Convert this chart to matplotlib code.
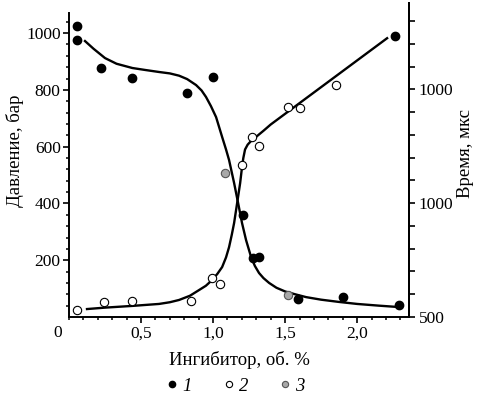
import matplotlib
matplotlib.use("Agg")
import matplotlib.pyplot as plt
from matplotlib.lines import Line2D
from matplotlib.ticker import MultipleLocator, FixedLocator

plt.rcParams['font.family'] = ['Liberation Serif', 'DejaVu Serif']

# ── data ─────────────────────────────────────────────────────────
# series 1 (filled): pressure, bar
s1_x = [0.055, 0.055, 0.22, 0.44, 0.82, 1.00, 1.21, 1.28, 1.32, 1.59, 1.90, 2.29, 2.26]
s1_y = [1025, 975, 877, 842, 789, 845, 359, 208, 211, 63, 70, 42, 989]
# series 2 (open)
s2_x = [0.055, 0.243, 0.44, 0.845, 0.995, 1.045, 1.20, 1.27, 1.32, 1.52, 1.60, 1.85]
s2_y = [25, 53, 56, 56, 137, 116, 535, 634, 602, 739, 735, 817]
# series 3 (grey)
s3_x = [1.083, 1.52]
s3_y = [507, 77]

# fitted curve, pressure (falling)
curveA_x = [0.111, 0.17, 0.25, 0.33, 0.44, 0.53, 0.625, 0.70, 0.764, 0.82,
            0.882, 0.92, 0.951, 0.985, 1.021, 1.063, 1.09, 1.111, 1.146, 1.174,
            1.201, 1.229, 1.264, 1.29, 1.319, 1.35, 1.389, 1.44, 1.50, 1.57,
            1.646, 1.75, 1.875, 2.0, 2.15, 2.29]
curveA_y = [972, 945, 912, 892, 877, 870, 863, 858, 850, 838,
            817, 798, 775, 743, 704, 634, 590, 553, 472, 401,
            331, 271, 211, 180, 155, 137, 120, 103, 90, 80,
            70, 61, 53, 46, 40, 35]
# fitted curve, time (rising), traced in pressure-axis units
curveB_x = [0.125, 0.25, 0.4375, 0.625, 0.70, 0.764, 0.84, 0.903, 0.95, 0.993,
            1.03, 1.063, 1.09, 1.111, 1.13, 1.146, 1.167, 1.188, 1.201, 1.21,
            1.222, 1.24, 1.26, 1.30, 1.35, 1.40, 2.208]
curveB_y = [28, 33, 39, 46, 52, 60, 75, 95, 110, 130,
            152, 176, 210, 246, 290, 331, 401, 472, 528, 560,
            590, 607, 618, 635, 656, 678, 982]

x_ticks = [0.5, 1.0, 1.5, 2.0]
x_tick_labels = ["0,5", "1,0", "1,5", "2,0"]
y_ticks = [200, 400, 600, 800, 1000]
t_ticks = [500, 1000, 1500]
t_tick_labels = ["500", "1000", "1000"]
legend_labels = ["1", "2", "3"]
# ─────────────────────────────────────────────────────────────────

W, H = 484, 397
fig = plt.figure(figsize=(W / 100, H / 100), dpi=100)
ax = fig.add_axes([69 / W, (H - 317) / H, 340 / W, 314 / H])

ax.plot(curveA_x, curveA_y, color='black', lw=1.7, solid_joinstyle='round')
ax.plot(curveB_x, curveB_y, color='black', lw=1.7, solid_joinstyle='round')
ax.plot(s1_x, s1_y, 'o', color='black', ms=6, mec='black')
ax.plot(s2_x, s2_y, 'o', mfc='white', mec='black', ms=6, mew=0.8)
ax.plot(s3_x, s3_y, 'o', mfc='#a8a8a8', mec='#555555', ms=6, mew=0.8)

ax.set_xlim(0, 2.36)
ax.set_ylim(0, 1106)
ax.spines['top'].set_visible(False)
ax.spines['left'].set_bounds(0, 1070)
for s in ax.spines.values():
    s.set_linewidth(1.4)

ax.set_xticks(x_ticks)
ax.set_xticklabels(x_tick_labels)
ax.xaxis.set_minor_locator(MultipleLocator(0.1))
ax.set_yticks(y_ticks)
ax.yaxis.set_minor_locator(FixedLocator(range(40, 1070, 40)))
ax.tick_params(which='major', direction='out', length=4, width=1.2, labelsize=12.5, pad=2)
ax.tick_params(which='minor', direction='out', length=2.5, width=1.1)

ax2 = ax.twinx()
ax2.set_ylim(500, 500 + 1106 * 500 / 401)
ax2.set_yticks(t_ticks)
ax2.set_yticklabels(t_tick_labels)
ax2.yaxis.set_minor_locator(MultipleLocator(100))
ax2.tick_params(which='major', direction='out', length=4, width=1.2, labelsize=12.5, pad=3)
ax2.tick_params(which='minor', direction='out', length=4, width=1.2)
for k in ['top', 'left', 'bottom']:
    ax2.spines[k].set_visible(False)
ax2.spines['right'].set_linewidth(1.4)

fig.text(58 / W, 1 - 333 / H, "0", ha='center', va='center', fontsize=12.5)
fig.text(239 / W, 1 - 360 / H, "Ингибитор, об. %", ha='center', va='center', fontsize=13.5)
fig.text(15 / W, 1 - 151 / H, "Давление, бар", ha='center', va='center',
         rotation=90, fontsize=13.5)
fig.text(466 / W, 1 - 153 / H, "Время, мкс", ha='center', va='center',
         rotation=90, fontsize=13.5)

handles = [
    Line2D([], [], ls='none', marker='o', color='black', ms=4.5),
    Line2D([], [], ls='none', marker='o', mfc='white', mec='black', ms=4.5, mew=0.8),
    Line2D([], [], ls='none', marker='o', mfc='#a8a8a8', mec='#555555', ms=4.5, mew=0.8),
]
fig.legend(handles, legend_labels, loc='center', bbox_to_anchor=(236 / W, 1 - 386 / H),
           ncol=3, frameon=False, handlelength=0.5, handletextpad=0.3,
           columnspacing=1.7, prop={'style': 'italic', 'size': 13.5})

fig.savefig("out.png", dpi=100)
